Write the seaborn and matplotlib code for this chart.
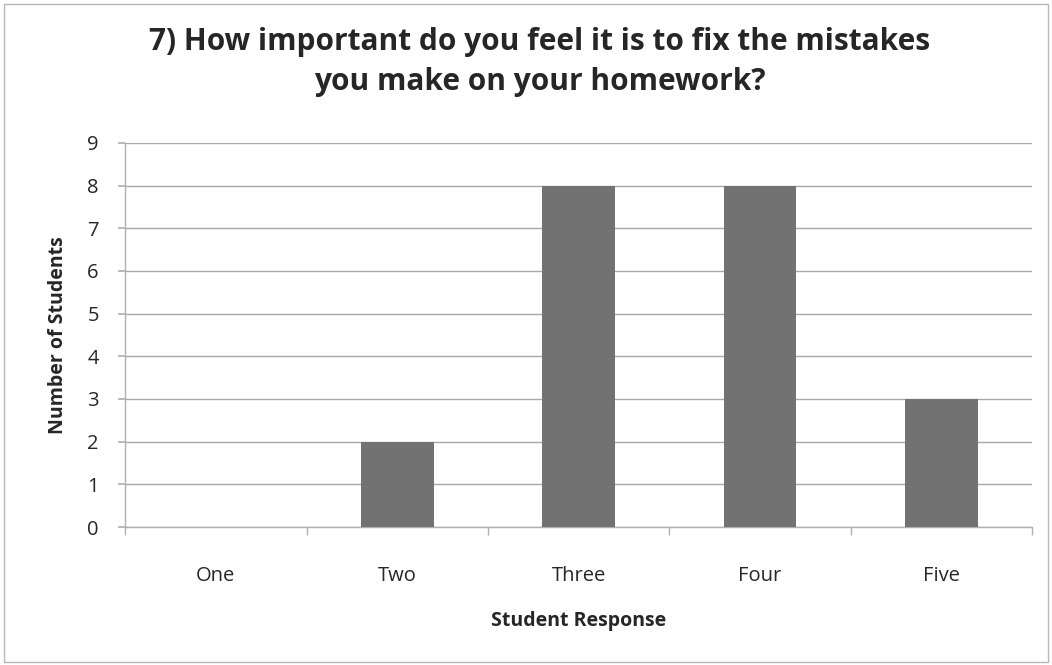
#!/usr/bin/env python3

import pandas as pd
import matplotlib
matplotlib.use('Agg')
import matplotlib.pyplot as plt
import seaborn as sns

responses = ['One', 'Two', 'Three', 'Four', 'Five']
students = [0, 2, 8, 8, 3]
y_ticks = list(range(0, 10))


def main():
    sns.set_theme(style='white')
    plt.rcParams['font.family'] = ['Open Sans', 'DejaVu Sans']

    data = pd.DataFrame({'response': responses, 'students': students})

    fig = plt.figure(figsize=(10.52, 6.65), dpi=100)
    ax = fig.add_axes([0.119, 0.2075, 0.862, 0.5775])

    sns.barplot(x='response', y='students', data=data, color='#727272',
                width=0.4, saturation=1, linewidth=0, ax=ax, zorder=3)

    ax.set_ylim(0, 9)
    ax.set_xlim(-0.5, len(responses) - 0.5)
    ax.set_yticks(y_ticks)
    ax.yaxis.grid(True, color='#a8a8a8', linewidth=1.0, zorder=0)
    ax.set_axisbelow(True)

    for side in ['top', 'right']:
        ax.spines[side].set_visible(False)
    for side in ['left', 'bottom']:
        ax.spines[side].set_color('#b0b0b0')
        ax.spines[side].set_linewidth(1.0)

    # tick marks sit between categories like Excel
    ax.set_xticks(range(len(responses)))
    ax.set_xticklabels(responses)
    ax.set_xticks([i - 0.5 for i in range(len(responses) + 1)], minor=True)
    ax.tick_params(axis='x', which='major', length=0, pad=28, labelsize=14.5)
    ax.tick_params(axis='x', which='minor', length=6, color='#b0b0b0',
                   direction='out', bottom=True)
    ax.tick_params(axis='y', length=5, color='#b0b0b0', direction='out',
                   left=True, labelsize=14.5, pad=14)

    ax.set_xlabel('Student Response', fontsize=14, fontweight='bold', labelpad=18)
    ax.set_ylabel('Number of Students', fontsize=14, fontweight='bold', labelpad=14)

    fig.suptitle('7) How important do you feel it is to fix the mistakes\n'
                 'you make on your homework?', x=0.513, y=0.96,
                 fontsize=21.5, fontweight='bold', linespacing=1.45)

    fig.patches.append(plt.Rectangle((0.004, 0.004), 0.992, 0.99,
                                     transform=fig.transFigure, fill=False,
                                     edgecolor='#b8b8b8', linewidth=1.0))

    plt.savefig('out.png', dpi=100)


if __name__ == '__main__':
    main()
